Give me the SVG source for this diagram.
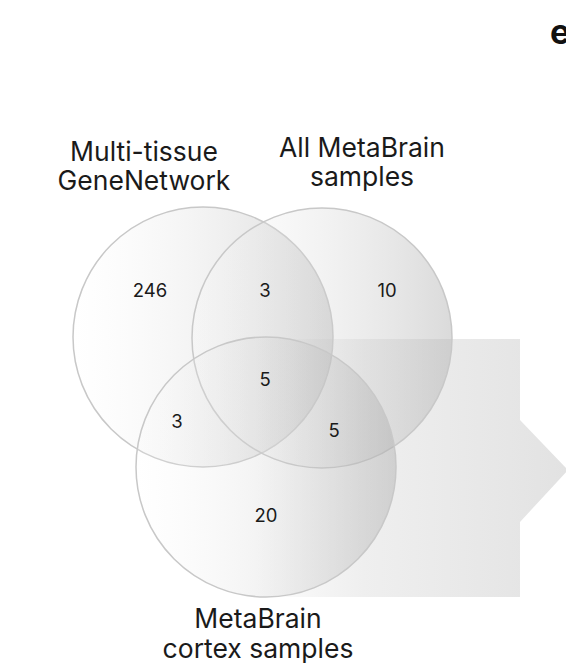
<svg xmlns="http://www.w3.org/2000/svg" width="566" height="666" viewBox="0 0 566 666">
<defs>
<linearGradient id="cg" x1="0" y1="0" x2="1" y2="0">
<stop offset="0" stop-color="#ffffff" stop-opacity="0.15"/>
<stop offset="1" stop-color="#a8a8a8" stop-opacity="0.42"/>
</linearGradient>
<linearGradient id="ag" gradientUnits="userSpaceOnUse" x1="255" y1="0" x2="566" y2="0">
<stop offset="0" stop-color="#e4e4e4" stop-opacity="0"/>
<stop offset="0.35" stop-color="#e8e8e8" stop-opacity="0.7"/>
<stop offset="1" stop-color="#e2e2e2"/>
</linearGradient>
<style>
.c{fill:url(#cg);stroke:#c8c8c8;stroke-width:1.5}
.t{font-family:Inter,"Liberation Sans",sans-serif;font-size:26.5px;fill:#1a1a1a;text-anchor:middle}
.n{font-family:Inter,"Liberation Sans",sans-serif;font-size:18.5px;fill:#1a1a1a;text-anchor:middle}
</style>
</defs>
<rect width="566" height="666" fill="#fff"/>
<g id="arrow">
<path d="M255,339 H520 V420 L568,470 L520,522 V597 H255 Z" fill="url(#ag)"/>
</g>
<g id="circles">
<g id="gn"><circle class="c" cx="203" cy="337" r="130"/></g>
<g id="all"><circle class="c" cx="322" cy="338" r="130"/></g>
<g id="cortex"><circle class="c" cx="266" cy="467" r="130"/></g>
</g>
<g id="labels">
<text class="t" x="144" y="161">Multi-tissue</text>
<text class="t" x="144" y="190">GeneNetwork</text>
<text class="t" x="362" y="157">All MetaBrain</text>
<text class="t" x="362" y="186">samples</text>
<text class="t" x="258" y="628">MetaBrain</text>
<text class="t" x="258" y="658">cortex samples</text>
</g>
<g id="counts">
<text class="n" x="150" y="297">246</text>
<text class="n" x="265" y="297">3</text>
<text class="n" x="387" y="297">10</text>
<text class="n" x="265" y="386">5</text>
<text class="n" x="177" y="428">3</text>
<text class="n" x="334" y="437">5</text>
<text class="n" x="266" y="522">20</text>
</g>
<text x="550" y="44" font-family="Inter,'Liberation Sans',sans-serif" font-weight="bold" font-size="34" fill="#111">e</text>
</svg>
